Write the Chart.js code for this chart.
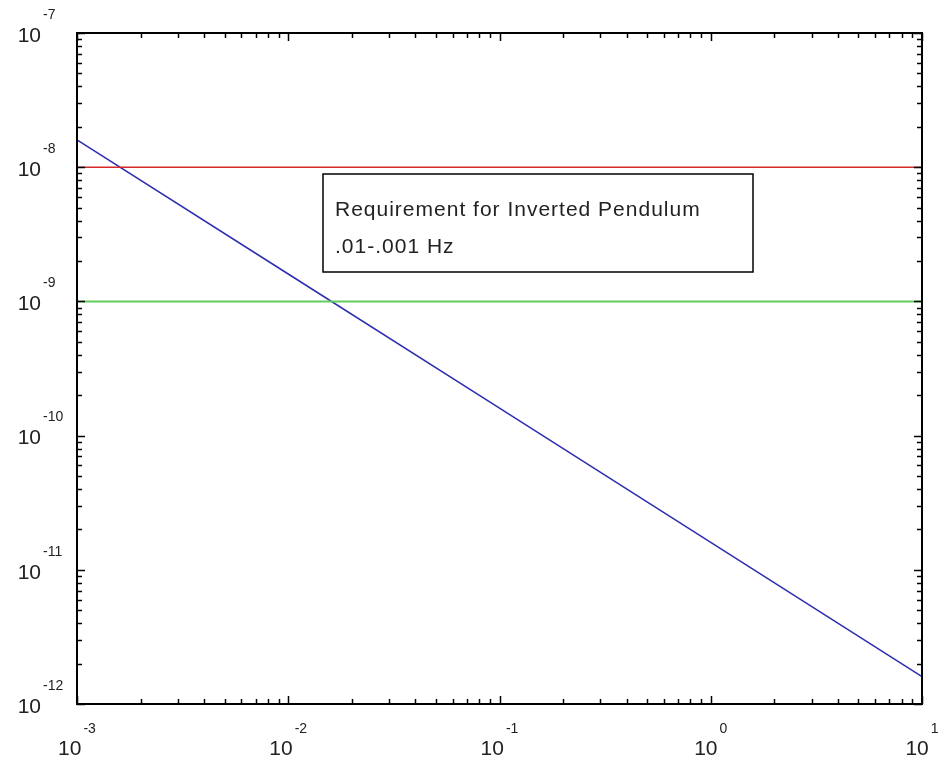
<!DOCTYPE html>
<html>
<head>
<meta charset="utf-8">
<script src="https://cdn.jsdelivr.net/npm/chart.js@4"></script>
<style>
  body { margin: 0; background: #fff; }
  #wrap { width: 944px; height: 765px; }
</style>
</head>
<body>
<div id="wrap"><canvas id="chart" width="944" height="765"></canvas></div>
<script>
// --------------------------------------------------
// Data
// --------------------------------------------------
const freqs = [0.001, 0.01, 0.1, 1, 10];
const noise = [1.6e-8, 1.6e-9, 1.6e-10, 1.6e-11, 1.6e-12];
const redLimit = [1e-8, 1e-8];
const greenLimit = [1e-9, 1e-9];
const limitFreqs = [0.001, 10];

const xTickExponents = [-3, -2, -1, 0, 1];
const yTickExponents = [-12, -11, -10, -9, -8, -7];
const minorSteps = [2, 3, 4, 5, 6, 7, 8, 9];

const noteLines = ["Requirement for Inverted Pendulum", ".01-.001 Hz"];

const toPoints = (xs, ys) => xs.map((x, i) => ({ x, y: ys[i] }));

// --------------------------------------------------
// Frame, inward ticks and 10^n labels
// --------------------------------------------------
const framePlugin = {
  id: "frame",
  afterDraw(chart) {
    const { ctx, chartArea: a, scales } = chart;
    const xs = scales.x;
    const ys = scales.y;
    ctx.save();
    ctx.strokeStyle = "#000";
    ctx.lineWidth = 2;
    ctx.strokeRect(a.left, a.top, a.right - a.left, a.bottom - a.top);

    const major = 8;
    const minor = 5;
    ctx.lineWidth = 1.5;

    // x ticks (bottom + top)
    xTickExponents.forEach((e, i) => {
      const vals = [{ v: Math.pow(10, e), len: major }];
      if (i < xTickExponents.length - 1) {
        minorSteps.forEach((m) => vals.push({ v: m * Math.pow(10, e), len: minor }));
      }
      vals.forEach(({ v, len }) => {
        const px = Math.round(xs.getPixelForValue(v)) + 0.5;
        ctx.beginPath();
        ctx.moveTo(px, a.bottom);
        ctx.lineTo(px, a.bottom - len);
        ctx.moveTo(px, a.top);
        ctx.lineTo(px, a.top + len);
        ctx.stroke();
      });
    });

    // y ticks (left + right)
    yTickExponents.forEach((e, i) => {
      const vals = [{ v: Math.pow(10, e), len: major }];
      if (i < yTickExponents.length - 1) {
        minorSteps.forEach((m) => vals.push({ v: m * Math.pow(10, e), len: minor }));
      }
      vals.forEach(({ v, len }) => {
        const py = Math.round(ys.getPixelForValue(v)) + 0.5;
        ctx.beginPath();
        ctx.moveTo(a.left, py);
        ctx.lineTo(a.left + len, py);
        ctx.moveTo(a.right, py);
        ctx.lineTo(a.right - len, py);
        ctx.stroke();
      });
    });

    // labels
    const baseFont = "21px 'Liberation Sans', Arial, sans-serif";
    const expFont = "14px 'Liberation Sans', Arial, sans-serif";
    ctx.fillStyle = "#222";
    ctx.textBaseline = "middle";

    xTickExponents.forEach((e) => {
      const px = xs.getPixelForValue(Math.pow(10, e));
      const expText = String(e);
      ctx.font = baseFont;
      const wb = ctx.measureText("10").width;
      ctx.font = expFont;
      const we = ctx.measureText(expText).width;
      const start = px - (wb + we + 2) / 2;
      ctx.textAlign = "left";
      ctx.font = baseFont;
      ctx.fillText("10", start, a.bottom + 45);
      ctx.font = expFont;
      ctx.fillText(expText, start + wb + 2, a.bottom + 25);
    });

    yTickExponents.forEach((e) => {
      const py = ys.getPixelForValue(Math.pow(10, e));
      ctx.font = baseFont;
      ctx.textAlign = "right";
      ctx.fillText("10", 41, py + 3);
      ctx.font = expFont;
      ctx.textAlign = "left";
      ctx.fillText(String(e), 43, py - 18);
    });

    // annotation box
    const bx = a.left + 246;
    const by = a.top + 141;
    ctx.lineWidth = 1.5;
    ctx.strokeStyle = "#000";
    ctx.fillStyle = "#fff";
    ctx.fillRect(bx, by, 430, 98);
    ctx.strokeRect(bx, by, 430, 98);
    ctx.fillStyle = "#222";
    ctx.font = "21px 'Liberation Sans', Arial, sans-serif";
    ctx.letterSpacing = "1px";
    ctx.textAlign = "left";
    ctx.textBaseline = "alphabetic";
    ctx.fillText(noteLines[0], bx + 12, by + 42);
    ctx.fillText(noteLines[1], bx + 12, by + 79);
    ctx.restore();
  },
};

new Chart(document.getElementById("chart"), {
  type: "scatter",
  data: {
    datasets: [
      {
        label: "Requirement (.01 Hz)",
        data: toPoints(limitFreqs, redLimit),
        showLine: true,
        borderColor: "rgb(215,40,40)",
        borderWidth: 1.5,
        pointRadius: 0,
      },
      {
        label: "Requirement (.001 Hz)",
        data: toPoints(limitFreqs, greenLimit),
        showLine: true,
        borderColor: "rgb(95,205,95)",
        borderWidth: 2,
        pointRadius: 0,
      },
      {
        label: "Noise",
        data: toPoints(freqs, noise),
        showLine: true,
        borderColor: "rgb(45,45,175)",
        borderWidth: 1.5,
        pointRadius: 0,
      },
    ],
  },
  options: {
    responsive: false,
    animation: false,
    layout: {
      padding: { left: 77, right: 22, top: 33, bottom: 61 },
    },
    plugins: {
      legend: { display: false },
      tooltip: { enabled: false },
    },
    scales: {
      x: { type: "logarithmic", min: 0.001, max: 10, display: false },
      y: { type: "logarithmic", min: 1e-12, max: 1e-7, display: false },
    },
  },
  plugins: [framePlugin],
});
</script>
</body>
</html>
